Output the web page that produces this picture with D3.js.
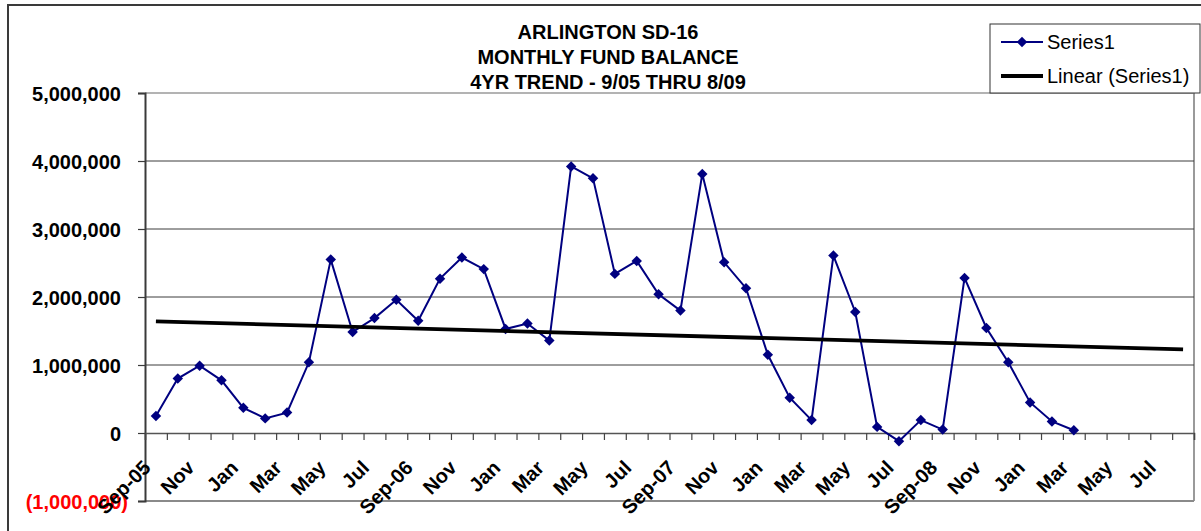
<!DOCTYPE html>
<html>
<head>
<meta charset="utf-8">
<script src="https://cdn.jsdelivr.net/npm/d3@7/dist/d3.min.js"></script>
<style>
  html, body { margin: 0; padding: 0; background: #fff; }
  svg { display: block; font-family: "Liberation Sans", Arial, sans-serif; }
</style>
</head>
<body>
<svg id="chart" width="1201" height="531"></svg>
<script>
// ---- data ----
const titleLines = ["ARLINGTON SD-16", "MONTHLY FUND BALANCE", "4YR TREND - 9/05 THRU 8/09"];
const categories = [
  "Sep-05","Oct-05","Nov-05","Dec-05","Jan-06","Feb-06","Mar-06","Apr-06","May-06","Jun-06","Jul-06","Aug-06",
  "Sep-06","Oct-06","Nov-06","Dec-06","Jan-07","Feb-07","Mar-07","Apr-07","May-07","Jun-07","Jul-07","Aug-07",
  "Sep-07","Oct-07","Nov-07","Dec-07","Jan-08","Feb-08","Mar-08","Apr-08","May-08","Jun-08","Jul-08","Aug-08",
  "Sep-08","Oct-08","Nov-08","Dec-08","Jan-09","Feb-09","Mar-09","Apr-09","May-09","Jun-09","Jul-09","Aug-09"
];
const tickLabels = [
  "Sep-05","Nov","Jan","Mar","May","Jul",
  "Sep-06","Nov","Jan","Mar","May","Jul",
  "Sep-07","Nov","Jan","Mar","May","Jul",
  "Sep-08","Nov","Jan","Mar","May","Jul"
];
const series1 = [
  250000, 800000, 990000, 775000, 370000, 215000, 300000, 1040000, 2550000, 1485000, 1690000, 1960000,
  1650000, 2270000, 2580000, 2410000, 1530000, 1610000, 1360000, 3920000, 3745000, 2340000, 2530000, 2040000,
  1800000, 3810000, 2510000, 2130000, 1150000, 520000, 190000, 2610000, 1780000, 90000, -120000, 190000,
  50000, 2280000, 1545000, 1040000, 450000, 170000, 40000
];
const yTicks = [-1000000, 0, 1000000, 2000000, 3000000, 4000000, 5000000];
const legendLabels = ["Series1", "Linear (Series1)"];

// ---- layout ----
const svg = d3.select("#chart");
const L = 145, R = 1194, T = 93, B = 501;
const navy = "#000080";

const x = d3.scaleBand().domain(categories).range([L, R]).padding(0);
const cx = c => x(c) + x.bandwidth() / 2;
const y = d3.scaleLinear().domain([-1000000, 5000000]).range([B, T]);

// outer chart border
svg.append("rect").attr("x", 8).attr("y", 5).attr("width", 1220).attr("height", 560)
  .attr("fill", "#fff").attr("stroke", "#3a3a3a").attr("stroke-width", 2);

// plot area borders (top, right, bottom)
svg.append("line").attr("x1", L).attr("x2", R).attr("y1", T).attr("y2", T)
  .attr("stroke", "#9a9a9a").attr("stroke-width", 1.5);
svg.append("line").attr("x1", R).attr("x2", R).attr("y1", T).attr("y2", B)
  .attr("stroke", "#9a9a9a").attr("stroke-width", 2);
svg.append("line").attr("x1", L).attr("x2", R).attr("y1", B).attr("y2", B)
  .attr("stroke", "#8a8a8a").attr("stroke-width", 2);

// gridlines
svg.append("g").selectAll("line").data(yTicks.filter(v => v > 0 && v < 5000000)).join("line")
  .attr("x1", L).attr("x2", R).attr("y1", d => y(d)).attr("y2", d => y(d))
  .attr("stroke", "#3c3c3c").attr("stroke-width", 1);

// y axis
const fmt = d3.format(",");
const yAxis = svg.append("g").attr("transform", `translate(${L},0)`)
  .call(d3.axisLeft(y).tickValues(yTicks).tickSize(7).tickPadding(0).tickFormat(d => d < 0 ? "(" + fmt(-d) + ")" : fmt(d)));
yAxis.select(".domain").attr("stroke", "#3a3a3a").attr("stroke-width", 2);
yAxis.selectAll(".tick line").attr("stroke", "#3a3a3a").attr("stroke-width", 1.2);
yAxis.selectAll(".tick text")
  .attr("x", d => d < 0 ? -17 : -24)
  .attr("dy", "0.36em")
  .attr("font-size", "20px").attr("font-weight", "bold")
  .attr("fill", d => d < 0 ? "#ff0000" : "#000");

// x axis at zero
const xb = d3.scaleLinear().domain([0, categories.length]).range([L, R]);
const xAxis = svg.append("g").attr("transform", `translate(0,${y(0)})`)
  .call(d3.axisBottom(xb).tickValues(d3.range(0, categories.length + 1)).tickSize(7).tickFormat(""));
xAxis.select(".domain").attr("stroke", "#555").attr("stroke-width", 1.5);
xAxis.selectAll(".tick line").attr("stroke", "#444").attr("stroke-width", 1.2);

// x labels (every other category)
svg.append("g").selectAll("text").data(tickLabels).join("text")
  .attr("transform", (d, i) => `translate(${cx(categories[i * 2]) - 4},${469}) rotate(-45)`)
  .attr("text-anchor", "end")
  .attr("font-size", "20px").attr("font-weight", "bold").attr("fill", "#000")
  .text(d => d);

// series line
const pts = series1.map((v, i) => ({ c: categories[i], v }));
svg.append("path")
  .attr("d", d3.line().x(d => cx(d.c)).y(d => y(d.v))(pts))
  .attr("stroke", navy).attr("stroke-width", 2).attr("fill", "none");

const diamond = d3.symbol().type(d3.symbolDiamond2).size(70);
svg.append("g").selectAll("path").data(pts).join("path")
  .attr("transform", d => `translate(${cx(d.c)},${y(d.v)})`)
  .attr("d", diamond).attr("fill", navy);

// linear trendline (least squares on series index), drawn above the series
const n = series1.length;
const xs = d3.range(1, n + 1);
const mx = d3.mean(xs), my = d3.mean(series1);
const slope = d3.sum(xs, (xi, i) => (xi - mx) * (series1[i] - my)) / d3.sum(xs, xi => (xi - mx) ** 2);
const icpt = my - slope * mx;
const trend = [1, categories.length].map(k => ({ k, v: icpt + slope * k }));
svg.append("path")
  .attr("d", d3.line().x(d => cx(categories[d.k - 1])).y(d => y(d.v))(trend))
  .attr("stroke", "#000").attr("stroke-width", 3.8).attr("fill", "none");

// title
svg.append("g").selectAll("text").data(titleLines).join("text")
  .attr("x", 608).attr("y", (d, i) => 39 + i * 25)
  .attr("text-anchor", "middle").attr("font-size", "20px").attr("font-weight", "bold")
  .attr("fill", "#000").text(d => d);

// legend
const lg = svg.append("g");
lg.append("rect").attr("x", 990).attr("y", 24).attr("width", 210).attr("height", 69)
  .attr("fill", "#fff").attr("stroke", "#333").attr("stroke-width", 1);
lg.append("line").attr("x1", 1001).attr("x2", 1043).attr("y1", 42).attr("y2", 42)
  .attr("stroke", navy).attr("stroke-width", 2);
lg.append("path").attr("transform", "translate(1022,42)").attr("d", diamond).attr("fill", navy);
lg.append("line").attr("x1", 1001).attr("x2", 1043).attr("y1", 76).attr("y2", 76)
  .attr("stroke", "#000").attr("stroke-width", 4);
lg.selectAll("text").data(legendLabels).join("text")
  .attr("x", 1047).attr("y", (d, i) => 49 + i * 34)
  .attr("font-size", "20px").attr("fill", "#000").text(d => d);
</script>
</body>
</html>
